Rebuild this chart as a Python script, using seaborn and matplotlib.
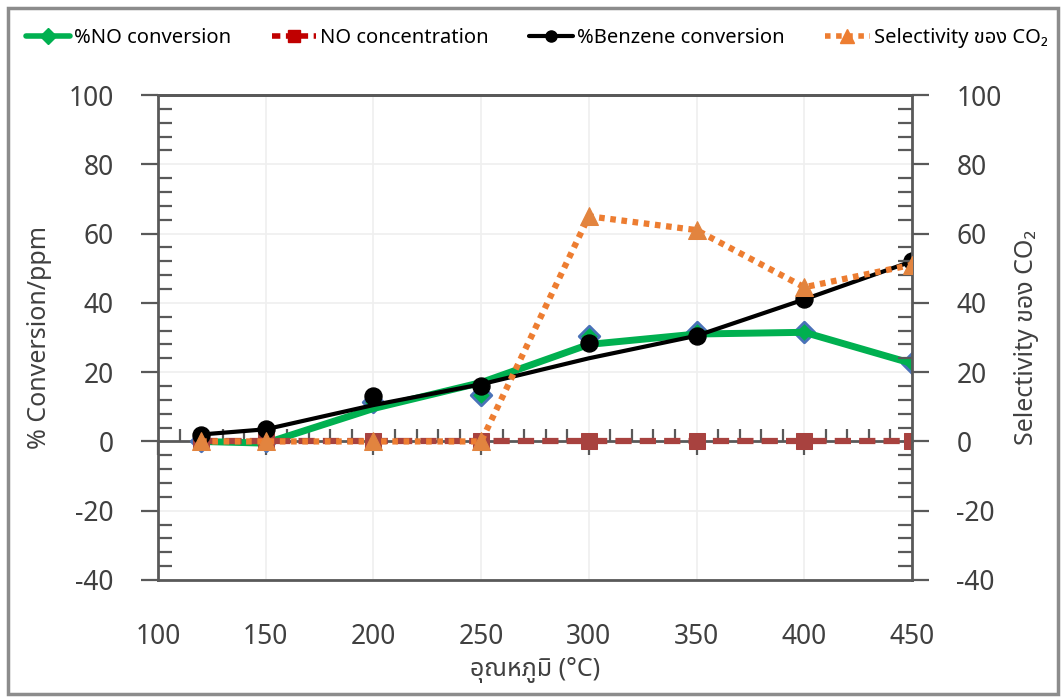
import matplotlib
matplotlib.use("Agg")
import matplotlib.pyplot as plt
from matplotlib.lines import Line2D
from matplotlib.patches import Rectangle
from matplotlib.ticker import MultipleLocator
import seaborn as sns
import pandas as pd

# ---------------- data ----------------
temps = [120, 150, 200, 250, 300, 350, 400, 450]
no_conv_points = [0, 0, 11.5, 13.5, 30.5, 31.5, 31.5, 22.5]
no_conv_line = [0, -0.5, 9.5, 17, 28, 31, 31.5, 22.5]
no_conc = [0, 0, 0, 0, 0, 0, 0, 0]
benz_points = [2, 3.5, 13, 16, 28.5, 30.5, 41, 52]
benz_line = [2, 3.5, 10.5, 16.5, 24, 30.5, 41, 52]
selectivity = [0, 0, 0, 0, 65, 61, 44.5, 51]

labels = ["%NO conversion", "NO concentration", "%Benzene conversion", "Selectivity ของ CO₂"]
xlabel = "อุณหภูมิ (°C)"
ylabel_left = "% Conversion/ppm"
ylabel_right = "Selectivity ของ CO₂"
xticks = [100, 150, 200, 250, 300, 350, 400, 450]
yticks = [-40, -20, 0, 20, 40, 60, 80, 100]

df = pd.DataFrame({"T": temps, "no_p": no_conv_points, "no_l": no_conv_line,
                   "conc": no_conc, "bz_p": benz_points, "bz_l": benz_line,
                   "sel": selectivity})

sns.set_style("white")
plt.rcParams['font.family'] = ['Noto Sans', 'Noto Sans Thai', 'Sarabun', 'Athiti', 'DejaVu Sans']
plt.rcParams['axes.unicode_minus'] = False

GREEN = "#00B050"
BLUE = "#4A72B8"
RED = "#A8423F"
ORANGE = "#ED7D31"
ORANGE_M = "#E2843F"
AX = "#595959"
TXT = "#404040"
GRID = "#EFEFEF"

YMIN, YMAX = -40, 100
L, R, T, B = 158, 912, 95, 580   # plot area in pixels
W_PX, H_PX = 1062, 697
rect = [L/W_PX, 1 - B/H_PX, (R-L)/W_PX, (B-T)/H_PX]

fig = plt.figure(figsize=(10.62, 6.97), dpi=100, facecolor="white")

# label-only axes (x tick labels at the bottom of the plot area + x title)
axl = fig.add_axes(rect, zorder=-1)
axl.patch.set_visible(False)
axl.set_xlim(100, 450)
axl.set_ylim(YMIN, YMAX)
axl.set_xticks(xticks)
axl.set_yticks([])
axl.tick_params(axis='x', which='both', bottom=True, length=0, labelsize=19,
                labelcolor=TXT, pad=31)
for s in axl.spines.values():
    s.set_visible(False)
axl.set_xlabel(xlabel, fontsize=18, color=TXT, labelpad=4)

ax = fig.add_axes(rect, zorder=0)
ax.patch.set_visible(False)
ax2 = ax.twinx()
ax2.set_zorder(1)
ax2.patch.set_visible(False)

ax.set_xlim(100, 450)
ax.set_ylim(YMIN, YMAX)
ax2.set_ylim(YMIN, YMAX)

# gridlines
for x in xticks:
    ax.axvline(x, color=GRID, lw=1.2, zorder=0)
for y in yticks:
    if y != 0:
        ax.axhline(y, color=GRID, lw=1.2, zorder=0)

# series (left axis)
sns.lineplot(data=df, x="T", y="no_l", ax=ax, color=GREEN, lw=5, zorder=3, legend=False)
sns.scatterplot(data=df, x="T", y="no_p", ax=ax, marker="D", s=110, color=GREEN,
                edgecolor=BLUE, linewidth=2, zorder=2.7, legend=False)
sns.lineplot(data=df, x="T", y="conc", ax=ax, color=RED, lw=4.5, zorder=4, legend=False,
             marker="s", markersize=11, markeredgecolor=RED, markerfacecolor=RED)
ax.lines[-1].set_dashes([2.6, 1.3])
sns.lineplot(data=df, x="T", y="bz_l", ax=ax, color="black", lw=3, zorder=5, legend=False)
sns.scatterplot(data=df, x="T", y="bz_p", ax=ax, marker="o", s=150, color="black",
                edgecolor="black", zorder=5, legend=False)

# right axis series
sns.lineplot(data=df, x="T", y="sel", ax=ax2, color=ORANGE, lw=4.5, zorder=6, legend=False,
             marker="^", markersize=13, markeredgecolor=ORANGE_M, markerfacecolor=ORANGE_M)
ax2.lines[-1].set_dashes([0.9, 0.9])
ax2.lines[-1].set_dash_capstyle("butt")

# y ticks
for a in (ax, ax2):
    a.set_ylim(YMIN, YMAX)
    a.yaxis.set_major_locator(MultipleLocator(20))
    a.yaxis.set_minor_locator(MultipleLocator(4))
    a.tick_params(axis='y', which='major', direction='out', length=12, width=1.6,
                  color=AX, labelsize=19, labelcolor=TXT, pad=20)
    a.tick_params(axis='y', which='minor', direction='in', length=10, width=1.6, color=AX)
ax.tick_params(axis='y', left=True, right=False, which='both')
ax2.tick_params(axis='y', left=False, right=True, which='both')

# x axis of the main axes crosses at y = 0 (ticks only, labels live on axl)
ax.spines['bottom'].set_position(('data', 0))
ax.set_xticks(xticks)
ax.xaxis.set_minor_locator(MultipleLocator(10))
ax.tick_params(axis='x', which='both', bottom=True, top=False, labelbottom=False)
ax.tick_params(axis='x', which='major', direction='out', length=10, width=1.6, color=AX)
ax.tick_params(axis='x', which='minor', direction='in', length=9, width=1.6, color=AX)
ax.set_xlabel("")

ax.set_ylabel(ylabel_left, fontsize=18, color=TXT, labelpad=12)
ax2.set_ylabel(ylabel_right, fontsize=18, color=TXT, labelpad=9)

for a in (ax, ax2):
    for side in ('left', 'right', 'top', 'bottom'):
        a.spines[side].set_color(AX)
        a.spines[side].set_linewidth(2)
ax.spines['right'].set_visible(False)
ax2.spines['left'].set_visible(False)
ax2.set_xlim(100, 450)

# legend
handles = [
    Line2D([], [], color=GREEN, lw=4, marker="D", markersize=8, markerfacecolor=GREEN, markeredgecolor=GREEN),
    Line2D([], [], color="#C00000", lw=4, marker="s", markersize=9, dashes=[1.5, 1.0],
           markerfacecolor="#C00000", markeredgecolor="#C00000"),
    Line2D([], [], color="black", lw=3, marker="o", markersize=8),
    Line2D([], [], color=ORANGE, lw=4, marker="^", markersize=10, dashes=[1, 1],
           markerfacecolor=ORANGE, markeredgecolor=ORANGE),
]
fig.legend(handles, labels, loc="center left", bbox_to_anchor=(26/1062, 1 - 38/697), ncol=4,
           frameon=False, fontsize=14.5, handlelength=2.2, handletextpad=0.2,
           columnspacing=2.0, labelcolor="black", borderaxespad=0, borderpad=0)

# outer frame
fig.patches.append(Rectangle((8/1062, 3/697), (1058-8)/1062, 686/697, transform=fig.transFigure,
                             fill=False, edgecolor="#8C8C8C", lw=2.5))

fig.savefig("out.png", dpi=100, facecolor="white")
